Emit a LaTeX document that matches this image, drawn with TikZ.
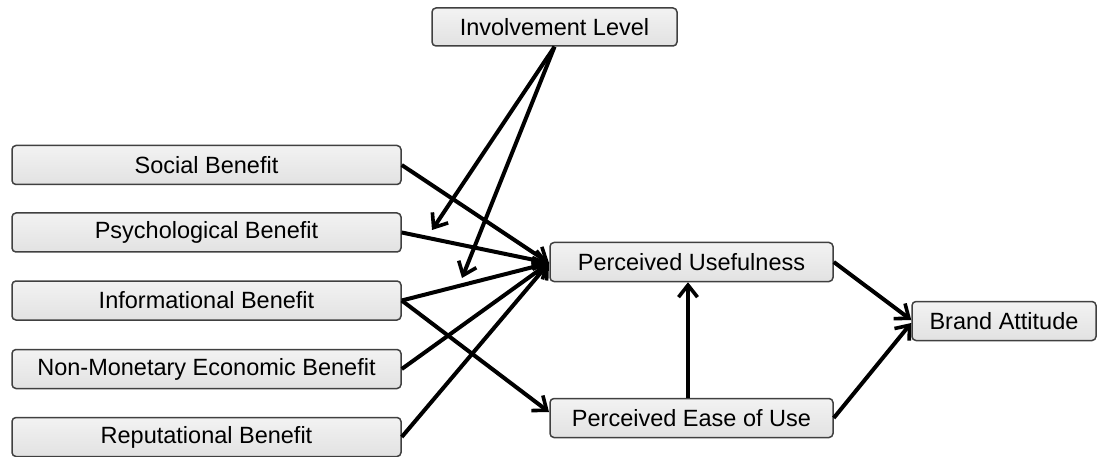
\documentclass[tikz,border=0pt]{standalone}
\usepackage{fontspec}
\setmainfont{Liberation Sans}
\usetikzlibrary{arrows.meta,calc}
\definecolor{boxfill}{HTML}{E2E2E2}
\definecolor{boxline}{HTML}{404040}
\begin{document}
\begin{tikzpicture}[x=1pt,y=-1pt,
  box/.style={draw=boxline, line width=1.5pt, rounded corners=4pt, top color=white!90!gray, bottom color=boxfill, inner sep=0pt, font=\fontsize{23.5}{26}\selectfont},
  conn/.style={line width=4pt, draw=black, -{Straight Barb[length=12pt,width=19pt,line width=3.6pt]}}]
\useasboundingbox (0,0) rectangle (1098,457);
\node[box, minimum width=245pt, minimum height=38pt] (inv) at (554.5,27) {Involvement Level};
\node[box, minimum width=389pt, minimum height=39pt] (soc) at (206.5,165) {Social Benefit};
\node[box, minimum width=389pt, minimum height=39pt] (psy) at (206.5,232.5) {Psychological Benefit};
\node[box, minimum width=389pt, minimum height=39pt] (inf) at (206.5,300.5) {Informational Benefit};
\node[box, minimum width=389pt, minimum height=39pt] (nme) at (206.5,369) {Non-Monetary Economic Benefit};
\node[box, minimum width=389pt, minimum height=39pt] (rep) at (206.5,437) {Reputational Benefit};
\node[box, minimum width=283pt, minimum height=39pt] (pu) at (691.5,262) {Perceived Usefulness};
\node[box, minimum width=283pt, minimum height=39pt] (peu) at (691.5,418) {Perceived Ease of Use};
\node[box, minimum width=184pt, minimum height=39pt] (ba) at (1004,321) {Brand Attitude};
\coordinate (t1) at (432,230);
\coordinate (t2) at (462,278);
\coordinate (pin) at (549,263);
\coordinate (pein) at (549,412);
\draw[conn] (soc.east) -- (pin);
\draw[conn] (psy.east) -- (pin);
\draw[conn] (inf.east) -- (pin);
\draw[conn] (nme.east) -- (pin);
\draw[conn] (rep.east) -- (pin);
\draw[conn] (inf.east) -- (pein);
\draw[conn] (inv.south) -- (t1);
\draw[conn] (inv.south) -- (t2);
\draw[conn] (peu.north -| 688,0) -- (pu.south -| 688,0);
\draw[conn] (pu.east) -- ($(ba.west)+(0,-1)$);
\draw[conn] (peu.east) -- ($(ba.west)+(0,2)$);
\end{tikzpicture}
\end{document}
